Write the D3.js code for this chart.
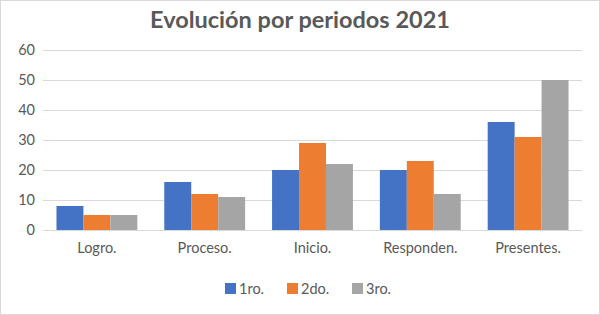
<!DOCTYPE html>
<html><head><meta charset="utf-8">
<script src="https://cdn.jsdelivr.net/npm/d3@7"></script>
<style>body{margin:0;background:#fff}svg{display:block}</style>
</head><body><svg id="c" width="600" height="315"></svg>
<script>
const categories = ["Logro.", "Proceso.", "Inicio.", "Responden.", "Presentes."];
const seriesNames = ["1ro.", "2do.", "3ro."];
const s1 = [8, 16, 20, 20, 36];
const s2 = [5, 12, 29, 23, 31];
const s3 = [5, 11, 22, 12, 50];
const yTicks = [0, 10, 20, 30, 40, 50, 60];
const colors = ["#4472C4", "#ED7D31", "#A5A5A5"];
const series = [s1, s2, s3];

(function(){
const svg = d3.select("#c");
const font = "Lato, 'Open Sans', sans-serif";
svg.append("rect").attr("x",0.5).attr("y",0.5).attr("width",599).attr("height",314)
  .attr("fill","#fff").attr("stroke","#D9D9D9");

const mL = 43, mR = 582, mT = 50, mB = 230;
const x = d3.scaleBand().domain(categories).range([mL, mR]).paddingInner(0.25).paddingOuter(0.125);
const xs = d3.scaleBand().domain(d3.range(3)).range([0, x.bandwidth()]);
const y = d3.scaleLinear().domain([0, 60]).range([mB, mT]);

svg.append("text").attr("x",300).attr("y",28).attr("text-anchor","middle")
  .attr("font-family",font).attr("font-weight","bold").attr("font-size",23.5).attr("fill","#595959")
  .text("Evolución por periodos 2021");

const ya = svg.append("g").attr("transform",`translate(${mL},0)`)
  .call(d3.axisLeft(y).tickValues(yTicks).tickSize(-(mR-mL)).tickPadding(8));
ya.select(".domain").remove();
ya.selectAll(".tick line").attr("stroke","#D9D9D9");
ya.selectAll(".tick text").attr("fill","#595959").attr("font-size",14.5).attr("font-family",font);

const g = svg.append("g");
series.forEach((s, i) => {
  g.selectAll(null).data(s).enter().append("rect")
    .attr("x",(d,j)=>x(categories[j]) + xs(i))
    .attr("y",d=>y(d)).attr("width",xs.bandwidth()).attr("height",d=>y(0)-y(d))
    .attr("fill",colors[i]);
});

const xa = svg.append("g").attr("transform",`translate(0,${mB})`)
  .call(d3.axisBottom(x).tickSize(0).tickPadding(13));
xa.select(".domain").remove();
xa.selectAll(".tick text").attr("fill","#595959").attr("font-size",14.5).attr("font-family",font);

const legX = [225, 287, 352];
const lg = svg.append("g");
seriesNames.forEach((n,i)=>{
  lg.append("rect").attr("x",legX[i]).attr("y",283).attr("width",11).attr("height",11).attr("fill",colors[i]);
  lg.append("text").attr("x",legX[i]+14).attr("y",294).attr("font-family",font).attr("font-size",14.5)
    .attr("fill","#595959").text(n);
});
})();
</script></body></html>
